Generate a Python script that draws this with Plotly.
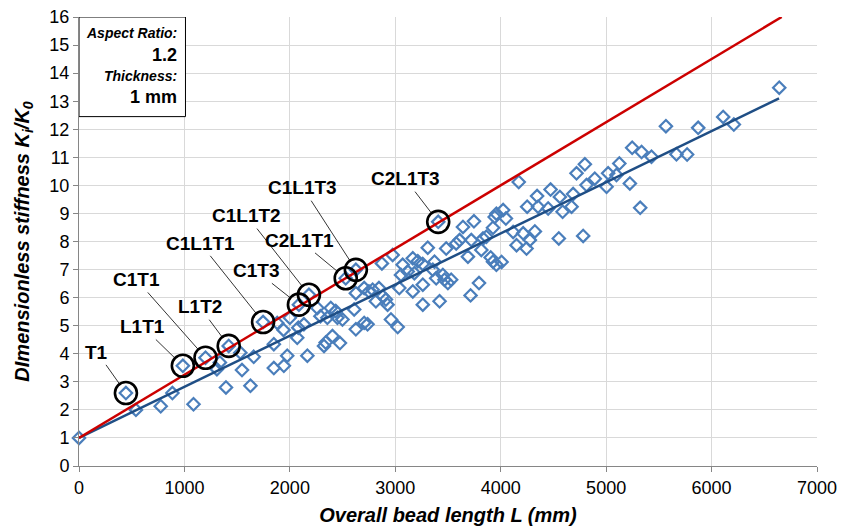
import plotly.graph_objects as go

# ---------------- data ----------------
bead_length = [
    0, 445, 540, 775, 886, 985, 1086, 1200, 1308, 1336, 1394, 1420, 1530, 1546, 1626, 1657,
    1746, 1848, 1848, 1880, 1943, 1940, 1975, 2000, 2070, 2080, 2086, 2133, 2166, 2181,
    2261, 2290, 2324, 2340, 2356, 2388, 2404, 2435, 2451, 2475, 2499, 2530, 2610, 2626,
    2626, 2626, 2705, 2737, 2705, 2750, 2785, 2816, 2845, 2873, 2880, 2911, 2927, 2959,
    2975, 3023, 3038, 3054, 3070, 3118, 3166, 3166, 3181, 3213, 3260, 3261, 3261, 3308,
    3356, 3372, 3388, 3420, 3407, 3451, 3467, 3483, 3499, 3530, 3578, 3610, 3642, 3689,
    3714, 3721, 3746, 3794, 3816, 3832, 3864, 3905, 3927, 3927, 3943, 3959, 3959, 4008,
    4023, 4049, 4118, 4150, 4171, 4213, 4245, 4251, 4276, 4324, 4345, 4354, 4450, 4473,
    4551, 4561, 4587, 4672, 4687, 4719, 4782, 4798, 4814, 4892, 5004, 5019, 5098, 5125,
    5225, 5247, 5323, 5336, 5430, 5567, 5667, 5768, 5873, 6110, 6211, 6642,
]
stiffness = [
    1.0, 2.6, 2.0, 2.13, 2.6, 3.57, 2.2, 3.86, 3.45, 3.69, 2.8, 4.28, 4.04, 3.42, 2.86, 3.89,
    5.13, 4.34, 3.49, 5.1, 3.57, 4.85, 3.93, 5.28, 4.57, 4.93, 5.75, 5.05, 3.93, 6.1,
    5.63, 5.34, 4.28, 4.4, 5.28, 5.63, 4.63, 5.52, 5.28, 4.38, 5.22, 6.69, 5.58, 4.87,
    6.16, 6.99, 5.1, 5.05, 6.34, 6.22, 6.28, 5.87, 6.34, 7.22, 6.05, 5.93, 5.75, 5.22,
    7.52, 4.95, 6.34, 6.81, 7.17, 6.93, 7.4, 6.22, 6.87, 7.3, 7.2, 5.75, 6.46, 7.78,
    6.99, 7.28, 6.69, 5.87, 8.7, 6.81, 6.64, 7.75, 6.52, 6.64, 7.93, 8.05, 8.52, 7.46,
    6.08, 8.05, 8.72, 6.52, 7.7, 8.11, 8.17, 7.43, 8.49, 7.28, 8.87, 7.17, 8.99, 7.27,
    9.12, 8.82, 8.34, 7.87, 10.12, 8.29, 7.75, 9.24, 8.05, 8.36, 9.62, 9.24, 9.18, 9.85,
    8.11, 9.59, 9.06, 9.24, 9.69, 10.43, 8.2, 10.75, 10.01, 10.24, 9.95, 10.43, 10.37, 10.78,
    10.07, 11.34, 9.2, 11.19, 11.02, 12.11, 11.11, 11.1, 12.05, 12.44, 12.17, 13.48,
]

labeled_names = ["T1", "L1T1", "C1T1", "L1T2", "C1L1T1", "C1T3",
                 "C1L1T2", "C2L1T1", "C1L1T3", "C2L1T3"]
labeled_length = [445, 985, 1200, 1420, 1746, 2086, 2181, 2530, 2626, 3407]
labeled_stiffness = [2.6, 3.57, 3.86, 4.28, 5.13, 5.75, 6.1, 6.69, 6.99, 8.7]

trend_length = [0, 6640]
trend_stiffness = [1.0, 13.1]
upper_length = [0, 6665]
upper_stiffness = [1.0, 16.0]

x_ticks = [0, 1000, 2000, 3000, 4000, 5000, 6000, 7000]
y_ticks = list(range(0, 17))

# label offsets (pixels, layout only)
label_ax = [-29, -40, -69, -29, -63, -43, -62, -46, -53, -33]
label_ay = [-41, -39, -78, -39, -79, -34, -79, -38, -82, -43]

FONT = "Liberation Sans, Arial, Helvetica, sans-serif"

fig = go.Figure()

fig.add_trace(go.Scatter(
    x=bead_length, y=stiffness, mode="markers",
    marker=dict(symbol="diamond-open", size=9.5, color="#4A7EBB",
                line=dict(width=2.2, color="#4A7EBB")),
    cliponaxis=False, showlegend=False, hoverinfo="skip"))

fig.add_trace(go.Scatter(
    x=trend_length, y=trend_stiffness, mode="lines",
    line=dict(color="#1F4E85", width=2.5), showlegend=False, hoverinfo="skip"))

fig.add_trace(go.Scatter(
    x=upper_length, y=upper_stiffness, mode="lines",
    line=dict(color="#CC0000", width=2.5), showlegend=False, hoverinfo="skip"))

fig.add_trace(go.Scatter(
    x=labeled_length, y=labeled_stiffness, mode="markers",
    marker=dict(symbol="circle-open", size=22, color="black",
                line=dict(width=2.6, color="black")),
    cliponaxis=False, showlegend=False, hoverinfo="skip"))

annotations = []
for name, lx, ly, ax, ay in zip(labeled_names, labeled_length, labeled_stiffness,
                                label_ax, label_ay):
    annotations.append(dict(
        x=lx, y=ly, xref="x", yref="y", text="<b>%s</b>" % name,
        showarrow=True, arrowhead=0, arrowwidth=0.8, arrowcolor="black",
        ax=ax, ay=ay, standoff=11, startstandoff=1,
        font=dict(family=FONT, size=19, color="black")))

# info box texts
box_texts = [("Aspect Ratio:", 15.42, 14, "italic"),
             ("1.2", 14.65, 18, "normal"),
             ("Thickness:", 13.9, 14, "italic"),
             ("1 mm", 13.16, 18, "normal")]
for txt, yy, sz, st in box_texts:
    annotations.append(dict(
        x=946, y=yy, xref="x", yref="y", xanchor="right", yanchor="middle",
        text="<b>%s</b>" % txt, showarrow=False,
        font=dict(family=FONT, size=sz, color="black", style=st)))

fig.add_shape(type="rect", xref="x", yref="y", x0=0, x1=1010, y0=12.45, y1=16,
              line=dict(color="black", width=1), fillcolor="white", layer="above")

fig.update_layout(
    width=854, height=528,
    margin=dict(l=71, r=45, t=9, b=70),
    paper_bgcolor="white", plot_bgcolor="white",
    annotations=annotations,
    font=dict(family=FONT, color="black"),
    xaxis=dict(
        range=[0, 7000], tickvals=x_ticks, showgrid=True, gridcolor="#D9D9D9", gridwidth=1,
        zeroline=False, showline=True, linecolor="#868686", linewidth=1, automargin=False,
        ticks="outside", ticklen=5, tickcolor="#868686", ticklabeloverflow="allow",
        tickfont=dict(family=FONT, size=18, color="black"),
        title=dict(text="Overall bead length L (mm)", standoff=11,
                   font=dict(family=FONT, size=20, color="black",
                             weight="bold", style="italic"))),
    yaxis=dict(
        range=[0, 16], tickvals=y_ticks, showgrid=True, gridcolor="#D9D9D9", gridwidth=1,
        zeroline=False, showline=True, linecolor="#868686", linewidth=1, automargin=False,
        ticks="outside", ticklen=5, tickcolor="#868686", ticklabeloverflow="allow",
        tickfont=dict(family=FONT, size=18, color="black"),
        title=dict(text="DImensionless stiffness K<sub>i</sub>/K<sub>0</sub>", standoff=14,
                   font=dict(family=FONT, size=20, color="black",
                             weight="bold", style="italic"))),
)

fig.write_html("out.html")
